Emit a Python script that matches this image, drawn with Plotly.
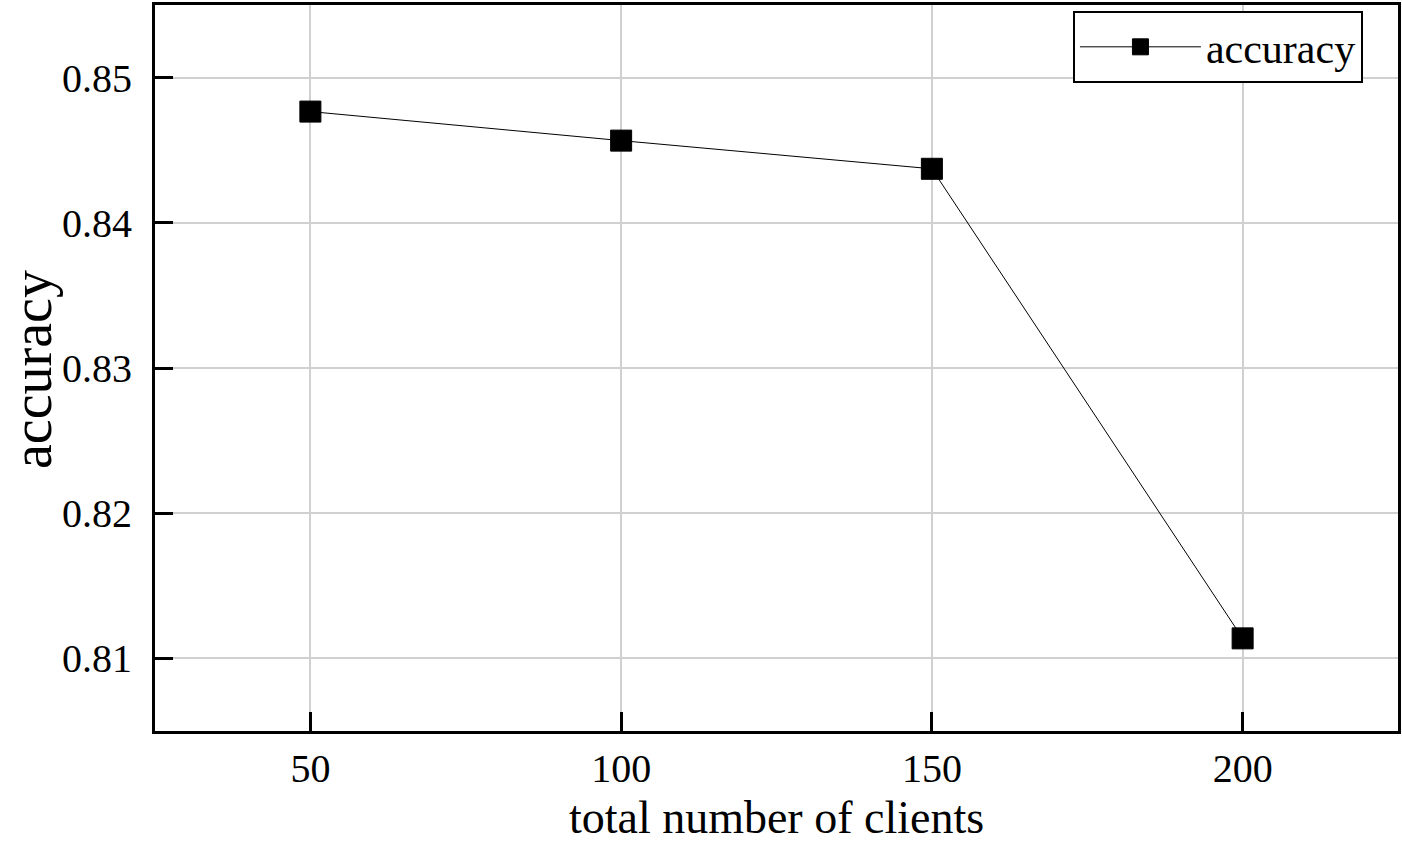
import plotly.graph_objects as go

clients = [50, 100, 150, 200]
accuracy = [0.84766, 0.84566, 0.84372, 0.81138]
y_ticks = [0.81, 0.82, 0.83, 0.84, 0.85]
x_ticks = [50, 100, 150, 200]

FONT = "Liberation Serif"

fig = go.Figure()
fig.add_trace(go.Scatter(
    x=clients, y=accuracy, mode="lines+markers", name="accuracy",
    line=dict(color="black", width=1),
    marker=dict(symbol="square", size=21, color="black", line=dict(color="black", width=1)),
))

fig.update_layout(
    width=1402, height=853,
    margin=dict(l=155, r=4, t=5, b=122, autoexpand=False),
    paper_bgcolor="white", plot_bgcolor="white",
    font=dict(family=FONT, color="black", size=40),
    showlegend=True,
    legend=dict(
        x=0.9718, y=0.9917, xanchor="right", yanchor="top",
        bgcolor="white", bordercolor="black", borderwidth=2,
        itemwidth=121,
        font=dict(family=FONT, size=42, color="black"),
    ),
    xaxis=dict(
        range=[25, 225], tickvals=x_ticks,
        showline=True, linecolor="black", linewidth=3, mirror=True,
        ticks="inside", ticklen=19, tickwidth=3, tickcolor="black",
        showgrid=True, gridcolor="#d0d0d0", gridwidth=1.5,
        zeroline=False, ticklabelstandoff=0, automargin=False,
        tickfont=dict(family=FONT, size=40),
        title=dict(text="total number of clients", font=dict(family=FONT, size=46), standoff=11),
    ),
    yaxis=dict(
        range=[0.805, 0.855], tickvals=y_ticks, tickformat=".2f",
        showline=True, linecolor="black", linewidth=3, mirror=True,
        ticks="inside", ticklen=18, tickwidth=3, tickcolor="black",
        showgrid=True, gridcolor="#d0d0d0", gridwidth=1.5,
        zeroline=False, ticklabelstandoff=12, automargin=False,
        tickfont=dict(family=FONT, size=40),
    ),
    annotations=[dict(
        text="accuracy", xref="paper", yref="paper",
        x=(32 - 155) / 1243, y=(731 - 370) / 726,
        xanchor="center", yanchor="middle", textangle=-90,
        showarrow=False, font=dict(family=FONT, size=56, color="black"),
    )],
)

fig.write_html("out.html", config={"displayModeBar": False},
               post_script="document.body.style.margin='0';")
